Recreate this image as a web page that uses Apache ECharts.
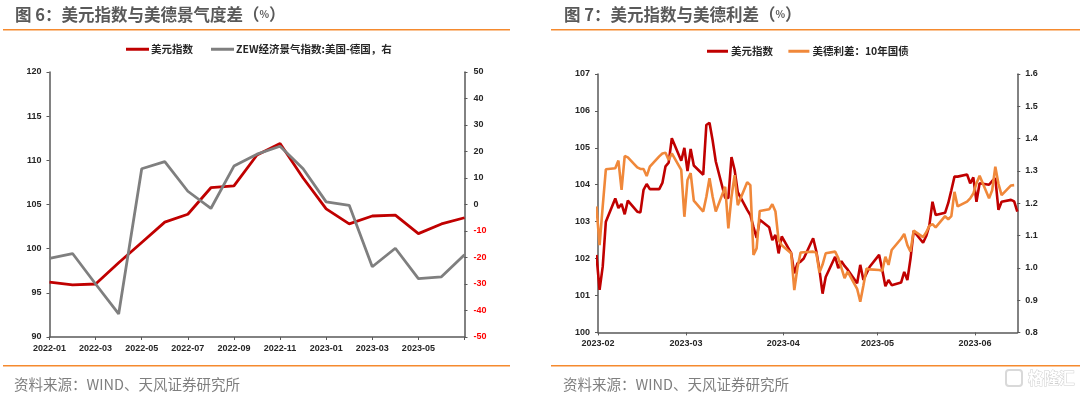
<!DOCTYPE html>
<html>
<head>
<meta charset="utf-8">
<style>
html, body { margin: 0; padding: 0; background: #fff; }
#chart { width: 1080px; height: 395px; }
</style>
<script src="https://cdn.jsdelivr.net/npm/echarts@6/dist/echarts.min.js"></script>
</head>
<body>
<div id="chart"></div>
<script>
// 图6 月度
const months = ['2022-01','2022-02','2022-03','2022-04','2022-05','2022-06','2022-07','2022-08','2022-09','2022-10','2022-11','2022-12',
  '2023-01','2023-02','2023-03','2023-04','2023-05','2023-06','2023-07'];
const dxyMonthly = [96.2,95.9,96.0,98.4,100.7,103.0,103.9,106.9,107.1,110.6,111.9,108.0,104.5,102.8,103.7,103.8,101.7,102.8,103.5];
const zewDiff = [-20.3,-18.5,-30,-41.3,13.5,16.2,5,-1.5,14.5,19,22,13.5,1,-0.3,-23.5,-16.5,-28,-27.3,-19];

// 图7 日度
const days = ['01-31','02-01','02-02','02-03',
  '02-06','02-07','02-08','02-09','02-10',
  '02-13','02-14','02-15','02-16','02-17',
  '02-20','02-21','02-22','02-23','02-24',
  '02-27','02-28','03-01','03-02','03-03',
  '03-06','03-07','03-08','03-09','03-10',
  '03-13','03-14','03-15','03-16','03-17',
  '03-20','03-21','03-22','03-23','03-24',
  '03-27','03-28','03-29','03-30','03-31',
  '04-03','04-04','04-05','04-06','04-07',
  '04-10','04-11','04-12','04-13','04-14',
  '04-17','04-18','04-19','04-20','04-21',
  '04-24','04-25','04-26','04-27','04-28',
  '05-01','05-02','05-03','05-04','05-05',
  '05-08','05-09','05-10','05-11','05-12',
  '05-15','05-16','05-17','05-18','05-19',
  '05-22','05-23','05-24','05-25','05-26',
  '05-29','05-30','05-31','06-01','06-02',
  '06-05','06-06','06-07','06-08','06-09',
  '06-12','06-13','06-14'];
const dxyDaily = [102.1,101.15,101.78,103.0,
  103.63,103.37,103.48,103.2,103.57,
  103.27,103.25,103.86,104.02,103.88,
  103.88,104.05,104.5,104.6,105.26,
  104.65,105.0,104.37,104.97,104.52,
  104.27,105.62,105.68,105.2,104.63,
  103.64,103.64,104.75,104.4,103.8,
  103.32,103.18,102.85,102.56,103.05,
  102.85,102.5,102.64,102.14,102.6,
  102.15,101.6,101.87,101.92,102.0,
  102.55,102.2,101.7,101.05,101.5,
  102.05,101.74,101.93,101.8,101.7,
  101.33,101.83,101.42,101.6,101.78,
  102.1,101.7,101.25,101.42,101.28,
  101.35,101.64,101.42,102.0,102.75,
  102.43,102.61,102.9,103.54,103.18,
  103.24,103.5,103.85,104.22,104.22,
  104.28,104.04,104.2,103.54,104.04,
  104.0,104.1,104.18,103.32,103.54,
  103.59,103.55,103.27];
const spread10y = [1.19,1.07,1.19,1.305,
  1.308,1.332,1.241,1.346,1.342,
  1.311,1.306,1.306,1.284,1.313,
  1.345,1.354,1.356,1.334,1.354,
  1.303,1.158,1.272,1.293,1.208,
  1.174,1.22,1.277,1.22,1.174,
  1.251,1.122,1.22,1.287,1.194,
  1.265,1.256,1.04,1.06,1.176,
  1.181,1.197,1.174,1.086,1.07,
  1.045,0.931,1.0,1.047,1.048,
  1.05,1.047,0.985,1.01,1.045,
  1.05,1.03,1.0,0.968,0.988,
  0.935,0.895,0.945,0.998,0.995,
  0.993,0.991,1.034,1.009,1.055,
  1.09,1.105,1.07,1.05,1.115,
  1.095,1.11,1.13,1.135,1.125,
  1.16,1.15,1.16,1.235,1.19,
  1.205,1.215,1.23,1.262,1.285,
  1.215,1.24,1.313,1.26,1.225,
  1.255,1.256,null];

const RED = '#C00000', GREY = '#7F7F7F', ORANGE = '#F0883A', AXIS = '#595959', TXT = '#262626';
const CJK = '"Noto Sans CJK SC", sans-serif';
const NUM = '"Liberation Sans", sans-serif';

// 全角标点
const COLON = '\uFF1A', COMMA = '\uFF0C', LP = '\uFF08', RP = '\uFF09';
const zewName = 'ZEW经济景气指数:美国-德国' + COMMA + '右';
const spreadName = '美德利差' + COLON + '10年国债';

// 数据点落在当日中间,和原图的位置对得上
const toTime = d => '2023-' + d + ' 12:00';
const dailyDxy = days.map((d, i) => [toTime(d), dxyDaily[i]]);
const dailySpread = days.map((d, i) => [toTime(d), spread10y[i]]);

const axisLine = { onZero: false, lineStyle: { color: AXIS, width: 1.5 } };
const axisTick = { length: 3, lineStyle: { color: AXIS, width: 1 } };
const label = { color: TXT, fontFamily: NUM, fontSize: 9, fontWeight: 'bold' };

function heading(text, left) {
  return { text: text + LP + '{p|%}' + RP, left, top: 1,
    textStyle: { color: '#595959', fontFamily: CJK, fontSize: 16.5, fontWeight: 'bold',
      rich: { p: { color: '#595959', fontFamily: CJK, fontSize: 10, fontWeight: 'bold' } } } };
}
function source(left) {
  return { text: '资料来源' + COLON + 'WIND、天风证券研究所', left, top: 372,
    textStyle: { color: '#7F7F7F', fontFamily: CJK, fontSize: 14.5, fontWeight: 'normal' } };
}
function rule(x, width, y) {
  return { type: 'rect', shape: { x, y, width, height: 1.5 }, style: { fill: '#F58A2E' } };
}

const chart = echarts.init(document.getElementById('chart'), null, { renderer: 'canvas' });
chart.setOption({
  animation: false,
  backgroundColor: '#fff',
  title: [
    heading('图 6' + COLON + '美元指数与美德景气度差', 10),
    heading('图 7' + COLON + '美元指数与美德利差', 559),
    source(9), source(558),
  ],
  legend: [
    { left: 121, top: 39, icon: 'rect', itemWidth: 23, itemHeight: 3, itemGap: 18, selectedMode: false,
      data: ['美元指数', zewName],
      textStyle: { color: TXT, fontFamily: CJK, fontSize: 10.5, fontWeight: 'bold', padding: [0, 0, 0, -3] } },
    { left: 702, top: 41, icon: 'rect', itemWidth: 21, itemHeight: 3, itemGap: 13, selectedMode: false,
      data: ['美元指数 ', spreadName],
      textStyle: { color: TXT, fontFamily: CJK, fontSize: 10.5, fontWeight: 'bold', padding: [0, 0, 0, -2] } },
  ],
  grid: [
    { left: 49.5, top: 72, width: 415, height: 265 },
    { left: 598, top: 74, width: 419.3, height: 258.4 },
  ],
  xAxis: [
    { type: 'category', gridIndex: 0, data: months, boundaryGap: false,
      axisLine, axisTick: { ...axisTick, interval: i => i % 2 === 0 },
      axisLabel: { ...label, margin: 7, interval: i => i % 2 === 0 && i < months.length - 1 } },
    { type: 'time', gridIndex: 1, min: '2023-02-01', max: '2023-06-14 12:00',
      minInterval: 28 * 86400000, splitLine: { show: false },
      axisLine, axisTick,
      axisLabel: { ...label, margin: 7, showMinLabel: true, showMaxLabel: false, hideOverlap: true,
        formatter: v => echarts.time.format(v, '{yyyy}-{MM}', false) } },
  ],
  yAxis: [
    { type: 'value', gridIndex: 0, min: 90, max: 120, interval: 5, splitLine: { show: false },
      axisLine: { show: true, ...axisLine }, axisTick: { show: true, ...axisTick }, axisLabel: { ...label, margin: 8 } },
    { type: 'value', gridIndex: 0, position: 'right', min: -50, max: 50, interval: 10, splitLine: { show: false },
      axisLine: { show: true, ...axisLine }, axisTick: { show: true, ...axisTick },
      axisLabel: { ...label, margin: 9, color: v => (v < 0 ? '#FF0000' : TXT) } },
    { type: 'value', gridIndex: 1, min: 100, max: 107, interval: 1, splitLine: { show: false },
      axisLine: { show: true, ...axisLine }, axisTick: { show: true, ...axisTick }, axisLabel: { ...label, margin: 8 } },
    { type: 'value', gridIndex: 1, position: 'right', min: 0.8, max: 1.6, interval: 0.1, splitLine: { show: false },
      axisLine: { show: true, ...axisLine }, axisTick: { show: true, ...axisTick },
      axisLabel: { ...label, margin: 8, formatter: v => v.toFixed(1) } },
  ],
  series: [
    { name: '美元指数', type: 'line', xAxisIndex: 0, yAxisIndex: 0, data: dxyMonthly, symbol: 'none',
      lineStyle: { color: RED, width: 2.8 }, itemStyle: { color: RED } },
    { name: zewName, type: 'line', xAxisIndex: 0, yAxisIndex: 1, data: zewDiff, symbol: 'none',
      lineStyle: { color: GREY, width: 2.8 }, itemStyle: { color: GREY } },
    { name: '美元指数 ', type: 'line', xAxisIndex: 1, yAxisIndex: 2, data: dailyDxy, symbol: 'none',
      lineStyle: { color: RED, width: 2.6 }, itemStyle: { color: RED } },
    { name: spreadName, type: 'line', xAxisIndex: 1, yAxisIndex: 3, data: dailySpread, symbol: 'none',
      lineStyle: { color: ORANGE, width: 2.6 }, itemStyle: { color: ORANGE } },
  ],
  graphic: [
    rule(3, 507, 29), rule(551, 529, 29),
    rule(3, 507, 365), rule(551, 529, 365),
    // 水印
    { type: 'rect', shape: { x: 1006, y: 370, width: 16, height: 16, r: 3 },
      style: { fill: 'none', stroke: '#D9D9D9', lineWidth: 2 } },
    { type: 'text', x: 1028, y: 370, style: { text: '格隆汇', fill: '#fff', stroke: '#CFCFCF', lineWidth: 1,
      font: 'bold 15.5px "Noto Sans CJK SC"' } },
  ],
});
</script>
</body>
</html>
